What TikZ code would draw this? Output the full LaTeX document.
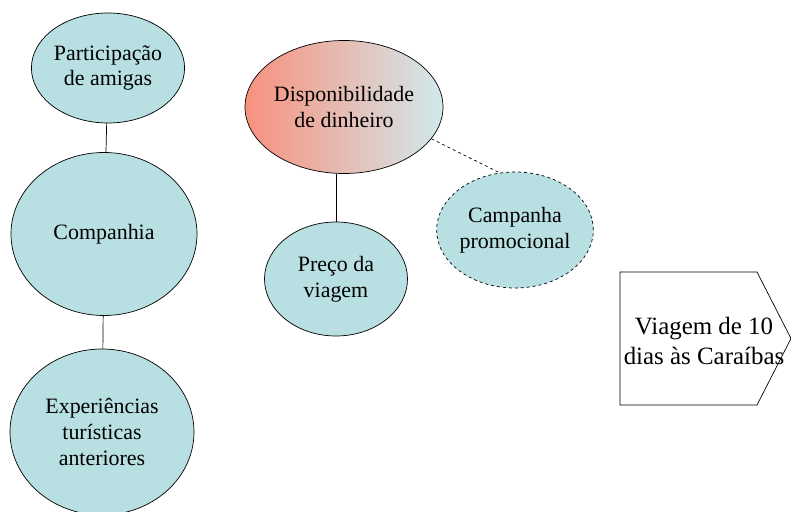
\documentclass[tikz,border=0pt]{standalone}
\usepackage{fontspec}
\setmainfont{Liberation Serif}
\usetikzlibrary{shapes.geometric}
\definecolor{tealfill}{RGB}{184,223,226}
\definecolor{salmon}{RGB}{247,145,125}
\definecolor{paleblue}{RGB}{210,233,236}
\begin{document}
\begin{tikzpicture}[x=1bp,y=-1bp,
  every node/.style={font=\fontsize{22}{26}\selectfont, align=center, inner sep=0pt},
  bubble/.style={ellipse, draw=black, line width=0.7pt, fill=tealfill},
  link/.style={draw=black, line width=0.7pt}]
\useasboundingbox (0,0) rectangle (791,512);
\node[bubble, minimum width=144bp, minimum height=110bp] (p) at (108,68) {Participação\\de amigas};
\node[bubble, minimum width=186bp, minimum height=163bp] (c) at (104,234) {Companhia};
\node[bubble, minimum width=184bp, minimum height=166bp] (e) at (102,432) {Experiências\\turísticas\\anteriores};
\node[ellipse, draw=black, line width=0.7pt, left color=salmon, right color=paleblue, minimum width=184bp, minimum height=133bp] (d) at (344,107) {Disponibilidade\\de dinheiro};
\node[bubble, minimum width=143bp, minimum height=114bp] (pr) at (336,279) {Preço da\\viagem};
\node[bubble, dashed, minimum width=144bp, minimum height=116bp] (cp) at (515,230) {Campanha\\promocional};
\draw[line width=0.7pt] (620,272) -- (757,272) -- (791,338.5) -- (757,405) -- (620,405) -- cycle;
\node[font=\fontsize{25}{29.5}\selectfont] (v) at (704,341) {Viagem de 10\\dias às Caraíbas};
\draw[link] (p) -- (c);
\draw[link] (c) -- (e);
\draw[link] (pr.north) -- (pr.north |- d.south);
\draw[link, dashed] (d.-20) -- (cp.105);
\end{tikzpicture}
\end{document}
